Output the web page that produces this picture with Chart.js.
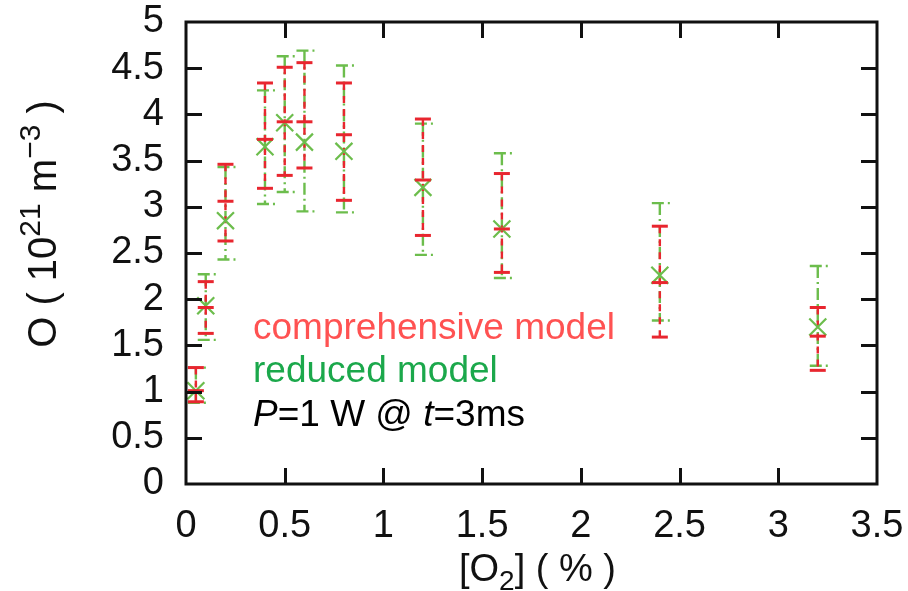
<!DOCTYPE html>
<html><head><meta charset="utf-8">
<script src="https://cdn.jsdelivr.net/npm/chart.js@4.4.1/dist/chart.umd.min.js"></script>
<style>html,body{margin:0;padding:0;background:#fff}#wrap{width:908px;height:591px}canvas{display:block}</style>
</head><body><div id="wrap"><canvas id="c" width="908" height="591"></canvas></div>
<script>
// O2 admixture (%)
const o2Percent = [0.05, 0.1, 0.2, 0.4, 0.5, 0.6, 0.8, 1.2, 1.6, 2.4, 3.2];
// comprehensive model: O density (1e21 m^-3)
const compCenter = [1.01, 1.91, 3.06, 3.73, 3.92, 3.92, 3.78, 3.29, 2.76, 2.18, 1.60];
const compLow    = [0.89, 1.63, 2.63, 3.20, 3.34, 3.42, 3.07, 2.69, 2.29, 1.59, 1.23];
const compHigh   = [1.26, 2.19, 3.46, 4.34, 4.51, 4.56, 4.34, 3.95, 3.36, 2.79, 1.91];
// reduced model
const redCenter  = [1.01, 1.93, 2.85, 3.65, 3.91, 3.70, 3.60, 3.21, 2.76, 2.26, 1.70];
const redLow     = [0.88, 1.56, 2.43, 3.03, 3.16, 2.95, 2.94, 2.48, 2.23, 1.77, 1.28];
const redHigh    = [1.26, 2.27, 3.43, 4.26, 4.63, 4.69, 4.53, 3.90, 3.58, 3.04, 2.36];
// tick values
const xTickValues = [0, 0.5, 1, 1.5, 2, 2.5, 3, 3.5];
const yTickValues = [0, 0.5, 1, 1.5, 2, 2.5, 3, 3.5, 4, 4.5, 5];
// legend texts
const legendComp = 'comprehensive model';
const legendReduced = 'reduced model';

const RED = '#e8262f';
const GREEN = '#6cbd4c';
const FONT = '"Liberation Sans", Arial, Helvetica, sans-serif';
const INK = '#111';

const errorBars = {
  id: 'errorBars',
  beforeDatasetsDraw(chart) {
    const {ctx, scales: {x, y}} = chart;
    ctx.save();
    ctx.lineCap = 'butt';
    // reduced model (green, dash-dot)
    o2Percent.forEach((v, i) => {
      const px = x.getPixelForValue(v);
      const lo = y.getPixelForValue(redLow[i]);
      const hi = y.getPixelForValue(redHigh[i]);
      ctx.strokeStyle = GREEN;
      ctx.lineWidth = 2.4;
      ctx.setLineDash([12, 4, 2, 4]);
      ctx.beginPath(); ctx.moveTo(px, hi); ctx.lineTo(px, lo); ctx.stroke();
      ctx.beginPath(); ctx.moveTo(px - 8, hi); ctx.lineTo(px + 10, hi); ctx.stroke();
      ctx.beginPath(); ctx.moveTo(px - 8, lo); ctx.lineTo(px + 10, lo); ctx.stroke();
    });
    // comprehensive model (red, dashed)
    o2Percent.forEach((v, i) => {
      const px = x.getPixelForValue(v);
      const lo = y.getPixelForValue(compLow[i]);
      const hi = y.getPixelForValue(compHigh[i]);
      ctx.strokeStyle = RED;
      ctx.lineWidth = 2.4;
      ctx.setLineDash([7, 6]);
      ctx.beginPath(); ctx.moveTo(px, hi); ctx.lineTo(px, lo); ctx.stroke();
      ctx.setLineDash([]);
      ctx.lineWidth = 3;
      ctx.beginPath(); ctx.moveTo(px - 8, hi); ctx.lineTo(px + 8, hi); ctx.stroke();
      ctx.beginPath(); ctx.moveTo(px - 8, lo); ctx.lineTo(px + 8, lo); ctx.stroke();
    });
    ctx.restore();
  }
};

const frame = {
  id: 'frame',
  afterDraw(chart) {
    const {ctx, chartArea: a, scales: {x, y}} = chart;
    ctx.save();
    ctx.strokeStyle = INK;
    ctx.lineWidth = 3;
    ctx.setLineDash([]);
    const tl = 16;
    ctx.beginPath();
    yTickValues.slice(1, -1).forEach(v => {
      const py = Math.round(y.getPixelForValue(v)) + 0.5;
      ctx.moveTo(a.left, py); ctx.lineTo(a.left + tl, py);
      ctx.moveTo(a.right, py); ctx.lineTo(a.right - tl, py);
    });
    xTickValues.slice(1, -1).forEach(v => {
      const px = Math.round(x.getPixelForValue(v)) + 0.5;
      ctx.moveTo(px, a.bottom); ctx.lineTo(px, a.bottom - tl);
      ctx.moveTo(px, a.top); ctx.lineTo(px, a.top + tl);
    });
    ctx.stroke();
    ctx.strokeRect(a.left, a.top, a.right - a.left, a.bottom - a.top);

    // axis titles
    ctx.fillStyle = INK;
    ctx.textBaseline = 'alphabetic';
    // x title: [O2] ( % )
    const xt = [['[O', 38, 0], ['2', 28, 9], ['] ( % )', 38, 0]];
    let w = 0;
    xt.forEach(([t, s]) => { ctx.font = s + 'px ' + FONT; w += ctx.measureText(t).width; });
    let cx = (a.left + a.right) / 2 + 6 - w / 2;
    const by = 581;
    xt.forEach(([t, s, dy]) => { ctx.font = s + 'px ' + FONT; ctx.fillText(t, cx, by + dy); cx += ctx.measureText(t).width; });

    // y title: O ( 10^21 m^-3 )
    const yt = [['O ( 10', 40, 0], ['21', 30, -16], [' m', 40, 0], ['\u22123', 30, -16], [' )', 40, 0]];
    w = 0;
    yt.forEach(([t, s]) => { ctx.font = s + 'px ' + FONT; w += ctx.measureText(t).width; });
    ctx.translate(56, 224);
    ctx.rotate(-Math.PI / 2);
    let tx = -w / 2;
    yt.forEach(([t, s, dy]) => { ctx.font = s + 'px ' + FONT; ctx.fillText(t, tx, dy); tx += ctx.measureText(t).width; });
    ctx.restore();

    // in-plot legend
    ctx.save();
    const lx = a.left + 67;
    ctx.textBaseline = 'alphabetic';
    ctx.font = '37px ' + FONT;
    ctx.fillStyle = '#ff5252';
    ctx.fillText(legendComp, lx, 339);
    ctx.fillStyle = '#1ba84b';
    ctx.fillText(legendReduced, lx, 382);
    ctx.fillStyle = '#000';
    const parts = [['P', true], ['=1 W @ ', false], ['t', true], ['=3ms', false]];
    let px = lx;
    parts.forEach(([t, it]) => {
      ctx.font = (it ? 'italic ' : '') + '37px ' + FONT;
      ctx.fillText(t, px, 426);
      px += ctx.measureText(t).width;
    });
    ctx.restore();
  }
};

new Chart(document.getElementById('c'), {
  type: 'scatter',
  data: {
    datasets: [
      {
        label: legendComp,
        data: o2Percent.map((v, i) => ({x: v, y: compCenter[i]})),
        pointStyle: 'line', radius: 8, borderWidth: 3,
        borderColor: RED, backgroundColor: RED, order: 0
      },
      {
        label: legendReduced,
        data: o2Percent.map((v, i) => ({x: v, y: redCenter[i]})),
        pointStyle: 'crossRot', radius: 12, borderWidth: 2.2,
        borderColor: GREEN, backgroundColor: GREEN, order: 1
      }
    ]
  },
  options: {
    responsive: false,
    animation: false,
    devicePixelRatio: 1,
    layout: {padding: {top: 22, right: 31, left: 0, bottom: 0}},
    plugins: {legend: {display: false}, tooltip: {enabled: false}},
    scales: {
      x: {
        type: 'linear', min: 0, max: 3.5,
        afterBuildTicks: s => { s.ticks = xTickValues.map(v => ({value: v})); },
        afterFit: s => { s.height = 107; s.paddingLeft = 0; s.paddingRight = 0; },
        grid: {display: false}, border: {display: false},
        ticks: {font: {family: FONT, size: 38}, color: INK, padding: 12, maxRotation: 0, autoSkip: false,
                callback: v => String(v)}
      },
      y: {
        type: 'linear', min: 0, max: 5,
        afterBuildTicks: s => { s.ticks = yTickValues.map(v => ({value: v})); },
        afterFit: s => { s.width = 186; s.paddingTop = 0; s.paddingBottom = 0; },
        grid: {display: false}, border: {display: false},
        ticks: {font: {family: FONT, size: 38}, color: INK, padding: 14, autoSkip: false,
                callback: v => String(v)}
      }
    }
  },
  plugins: [errorBars, frame]
});
</script>
</body></html>
